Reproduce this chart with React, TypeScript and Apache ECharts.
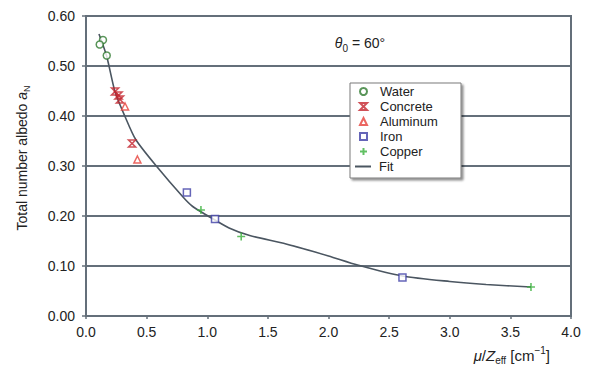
import React, { useEffect, useRef } from "react";
import * as echarts from "echarts";

const waterData: number[][] = [
  [0.14, 0.552],
  [0.113, 0.543],
  [0.171, 0.521],
];
const concreteData: number[][] = [
  [0.24, 0.449],
  [0.268, 0.441],
  [0.28, 0.433],
  [0.38, 0.345],
];
const aluminumData: number[][] = [
  [0.322, 0.419],
  [0.424, 0.313],
];
const ironData: number[][] = [
  [0.832, 0.247],
  [1.064, 0.194],
  [2.61, 0.077],
];
const copperData: number[][] = [
  [0.948, 0.212],
  [1.28, 0.159],
  [3.67, 0.058],
];
const fitData: number[][] = [
  [0.107, 0.564],
  [0.17, 0.52],
  [0.24, 0.448],
  [0.32, 0.4],
  [0.41, 0.353],
  [0.58, 0.3],
  [0.8, 0.238],
  [0.88, 0.219],
  [1.0, 0.201],
  [1.18, 0.176],
  [1.35, 0.161],
  [1.65, 0.144],
  [2.0, 0.12],
  [2.24, 0.102],
  [2.61, 0.08],
  [3.0, 0.069],
  [3.3, 0.063],
  [3.67, 0.058],
];
const xTicks = { min: 0, max: 4, interval: 0.5 };
const yTicks = { min: 0, max: 0.6, interval: 0.1 };
const markerNames = ["Water", "Concrete", "Aluminum", "Iron", "Copper"];
const fitName = "Fit";

const FONT = "'Liberation Sans', Arial, sans-serif";
const GRID_COLOR = "#646f7a";
const FIT_COLOR = "#4b5661";

export default function App() {
  const ref = useRef<HTMLDivElement>(null);
  useEffect(() => {
    if (!ref.current) return;
    const chart = echarts.init(ref.current, null, { renderer: "svg" });
    const open = (c: string) => ({ color: "#ffffff", borderColor: c, borderWidth: 1.5 });
    const lineSym = (c: string) => ({ color: "transparent", borderColor: c, borderWidth: 1.6 });
    const legendText = (padLeft: number) => ({
      fontSize: 13,
      color: "#222",
      fontFamily: FONT,
      lineHeight: 15,
      padding: [0, 0, 0, padLeft],
    });
    chart.setOption({
      animation: false,
      textStyle: { fontFamily: FONT },
      grid: {
        left: 86,
        right: 22,
        top: 16,
        bottom: 56,
        show: true,
        borderColor: GRID_COLOR,
        borderWidth: 2,
      },
      xAxis: {
        type: "value",
        min: xTicks.min,
        max: xTicks.max,
        interval: xTicks.interval,
        axisLine: { show: true, lineStyle: { color: GRID_COLOR, width: 2 } },
        axisTick: { show: true, length: 3, lineStyle: { color: GRID_COLOR, width: 1.5 } },
        splitLine: { show: false },
        axisLabel: {
          color: "#222",
          fontSize: 14,
          margin: 9,
          formatter: (v: number) => v.toFixed(1),
        },
        name: "{i|μ}/{i|Z}{sub|eff} [cm{sup|−1}]",
        nameLocation: "end",
        nameGap: -21,
        nameTextStyle: {
          align: "right",
          verticalAlign: "top",
          padding: [29, 0, 0, 0],
          color: "#222",
          fontSize: 15,
          rich: {
            i: { fontStyle: "italic", fontSize: 15, color: "#222" },
            sub: { fontSize: 10, padding: [10, 0, 0, 0], color: "#222" },
            sup: { fontSize: 10, padding: [0, 0, 11, 0], color: "#222" },
          },
        },
      },
      yAxis: {
        type: "value",
        min: yTicks.min,
        max: yTicks.max,
        interval: yTicks.interval,
        axisLine: { show: true, lineStyle: { color: GRID_COLOR, width: 2 } },
        axisTick: { show: true, length: 4, lineStyle: { color: GRID_COLOR, width: 1.5 } },
        splitLine: { show: true, lineStyle: { color: GRID_COLOR, width: 2 } },
        axisLabel: {
          color: "#222",
          fontSize: 14,
          margin: 11,
          formatter: (v: number) => v.toFixed(2),
        },
        name: "Total number albedo {i|a}{sub|N}",
        nameLocation: "middle",
        nameGap: 55,
        nameTextStyle: {
          color: "#222",
          fontSize: 14,
          padding: [0, 0, 0, 16],
          rich: {
            i: { fontStyle: "italic", fontSize: 14, color: "#222" },
            sub: { fontSize: 9, padding: [10, 0, 0, 0], color: "#222" },
          },
        },
      },
      legend: [
        {
          orient: "vertical",
          left: 359,
          top: 84,
          padding: 0,
          itemGap: 0,
          itemWidth: 7,
          itemHeight: 7,
          textStyle: legendText(8),
          data: markerNames,
          z: 6,
        },
        {
          orient: "vertical",
          left: 355,
          top: 159,
          padding: 0,
          itemGap: 0,
          itemWidth: 16,
          itemHeight: 2,
          textStyle: legendText(3),
          data: [{ name: fitName, icon: "rect" }],
          z: 6,
        },
      ],
      graphic: [
        {
          type: "rect",
          z: 5,
          shape: { x: 350, y: 83, width: 111, height: 95 },
          style: {
            fill: "#ffffff",
            stroke: "#7a7a7a",
            lineWidth: 1,
            shadowColor: "rgba(0,0,0,0.45)",
            shadowBlur: 2,
            shadowOffsetX: 2,
            shadowOffsetY: 2,
          },
        },
        {
          type: "text",
          x: 360,
          y: 43,
          style: {
            text: "{i|θ}{sub|0} = 60°",
            align: "center",
            verticalAlign: "middle",
            fontSize: 14,
            fontFamily: FONT,
            fill: "#222",
            rich: {
              i: { fontStyle: "italic", fontSize: 14, fontFamily: FONT, fill: "#222" },
              sub: { fontSize: 10, fontFamily: FONT, padding: [10, 0, 0, 0], fill: "#222" },
            },
          },
        },
      ],
      series: [
        {
          name: fitName,
          type: "line",
          data: fitData,
          symbol: "none",
          smooth: 0.25,
          lineStyle: { color: FIT_COLOR, width: 1.6 },
          itemStyle: { color: FIT_COLOR },
          z: 1,
        },
        {
          name: markerNames[0],
          type: "scatter",
          data: waterData,
          symbol: "circle",
          symbolSize: 7,
          itemStyle: open("#2f7a2f"),
          z: 3,
        },
        {
          name: markerNames[1],
          type: "scatter",
          data: concreteData,
          symbol: "path://M0,0L10,0L0,10L10,10Z",
          symbolSize: 7,
          symbolKeepAspect: true,
          itemStyle: lineSym("#c4262e"),
          z: 3,
        },
        {
          name: markerNames[2],
          type: "scatter",
          data: aluminumData,
          symbol: "triangle",
          symbolSize: 7,
          itemStyle: open("#e6403a"),
          z: 3,
        },
        {
          name: markerNames[3],
          type: "scatter",
          data: ironData,
          symbol: "rect",
          symbolSize: 7,
          itemStyle: open("#3f3fa6"),
          z: 3,
        },
        {
          name: markerNames[4],
          type: "scatter",
          data: copperData,
          symbol: "path://M5,0L5,10M0,5L10,5",
          symbolSize: 8,
          symbolKeepAspect: true,
          itemStyle: lineSym("#39b03c"),
          z: 3,
        },
      ],
    });
    return () => chart.dispose();
  }, []);
  return <div ref={ref} style={{ width: 593, height: 372, position: "absolute", left: 0, top: 0 }} />;
}
